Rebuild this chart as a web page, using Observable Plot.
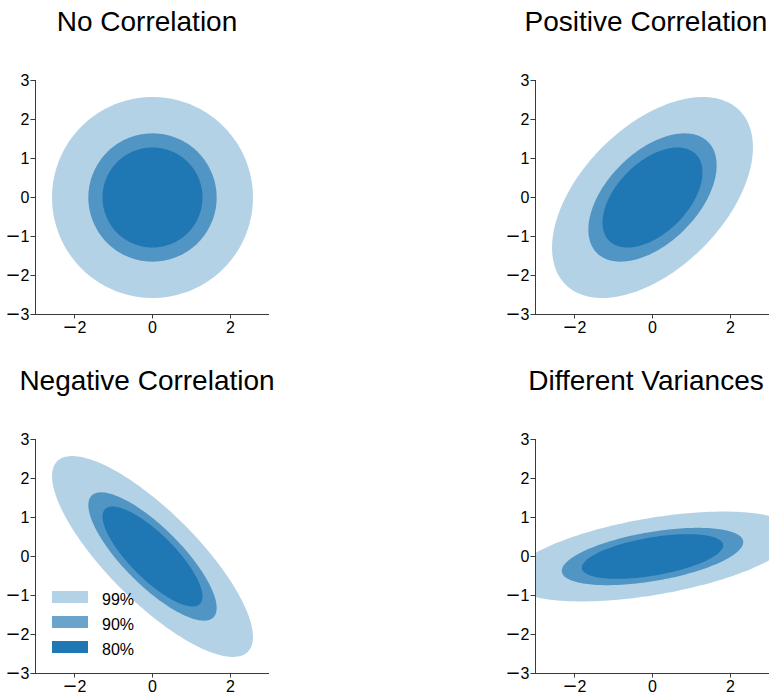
<!DOCTYPE html>
<html><head><meta charset="utf-8">
<script src="https://cdn.jsdelivr.net/npm/d3@7"></script>
<script src="https://cdn.jsdelivr.net/npm/@observablehq/plot@0.6"></script>
<style>
body{margin:0;background:#fff;font-family:"Liberation Sans",Arial,Helvetica,sans-serif;}
#wrap{position:relative;width:771px;height:697px;overflow:hidden;background:#fff;}
.title{position:absolute;font-size:28px;line-height:28px;color:#000;transform:translateX(-50%);white-space:nowrap;}
.panel{position:absolute;}
.panel text{font-size:16px;font-family:"Liberation Sans",Arial,Helvetica,sans-serif;}
.panel tspan.minus{font-family:"DejaVu Sans",sans-serif;font-size:18px;}
.sw{position:absolute;width:36px;height:12px;}
.lab{position:absolute;font-size:16px;line-height:16px;color:#000;}
</style></head><body><div id="wrap"></div>
<script>
// ---- data ----
const titles = ["No Correlation", "Positive Correlation", "Negative Correlation", "Different Variances"];
const sdX = [1, 1, 1, 1.414];
const sdY = [1, 1, 1, 0.447];
const rho = [0, 0.5, -0.8, 0.5];
const levels = ["99%", "90%", "80%"];
const zScores = [2.576, 1.645, 1.282];
const opacities = [1/3, 2/3, 1];
const yTicks = [-3, -2, -1, 0, 1, 2, 3];
const xTicks = [-2, 0, 2];
const baseColor = "#1f77b4";

// ---- layout ----
const panelLeft = [0, 500, 0, 500];
const panelTop = [70, 70, 429, 429];
const titleX = [147, 646, 147, 646];
const titleTop = [8, 8, 367, 367];

const wrap = document.getElementById("wrap");
const fmt = d3.format("d");

function ellipse(i, j) {
  const sx = sdX[i], sy = sdY[i], r = rho[i], z = zScores[j];
  const pts = [];
  for (let a = 0; a < 360; a += 2) {
    const t = a * Math.PI / 180;
    const u = Math.cos(t), v = Math.sin(t);
    pts.push({x: z * sx * u, y: z * (r * sy * u + sy * Math.sqrt(1 - r * r) * v)});
  }
  return pts;
}

titles.forEach((title, i) => {
  const marks = levels.map((lv, j) => Plot.line(ellipse(i, j), {
    x: "x", y: "y", curve: "linear-closed", fill: baseColor, fillOpacity: opacities[j],
    stroke: "none", clip: true
  }));
  const plot = Plot.plot({
    width: 271, height: 274,
    marginLeft: 35, marginRight: 2, marginTop: 10, marginBottom: 30,
    style: {fontFamily: '"Liberation Sans", Arial, sans-serif', fontSize: "16px", color: "#000", background: "transparent", overflow: "visible"},
    x: {domain: [-3, 3]},
    y: {domain: [-3, 3]},
    marks: [
      ...marks,
      Plot.ruleX([-3], {stroke: "#3a3a3a", strokeWidth: 1}),
      Plot.ruleY([-3], {stroke: "#3a3a3a", strokeWidth: 1}),
      Plot.axisY({ticks: yTicks, tickFormat: fmt, tickSize: 4.5, tickPadding: 1.5, label: null, stroke: "#3a3a3a", fontSize: 16, fill: "#000"}),
      Plot.axisX({ticks: xTicks, tickFormat: fmt, tickSize: 4.5, tickPadding: 2.5, label: null, stroke: "#3a3a3a", fontSize: 16, fill: "#000"})
    ]
  });
  // wider matplotlib-style minus sign on the tick labels
  plot.querySelectorAll("text").forEach(tx => {
    const s = tx.textContent;
    if (s.startsWith("\u2212") || s.startsWith("-")) {
      tx.textContent = "";
      const m = document.createElementNS("http://www.w3.org/2000/svg", "tspan");
      m.setAttribute("class", "minus");
      m.textContent = "\u2212";
      const rest = document.createElementNS("http://www.w3.org/2000/svg", "tspan");
      rest.textContent = s.slice(1);
      tx.appendChild(m);
      tx.appendChild(rest);
    }
  });
  plot.classList.add("panel");
  plot.style.left = panelLeft[i] + "px";
  plot.style.top = panelTop[i] + "px";
  wrap.appendChild(plot);

  const t = document.createElement("div");
  t.className = "title";
  t.textContent = title;
  t.style.left = titleX[i] + "px";
  t.style.top = titleTop[i] + "px";
  wrap.appendChild(t);
});

// legend in the Negative Correlation panel
const legendTop = [591, 616, 641];
levels.forEach((lv, j) => {
  const sw = document.createElement("div");
  sw.className = "sw";
  sw.style.left = "52px";
  sw.style.top = legendTop[j] + "px";
  sw.style.background = baseColor;
  sw.style.opacity = opacities[j];
  wrap.appendChild(sw);
  const lab = document.createElement("div");
  lab.className = "lab";
  lab.textContent = lv;
  lab.style.left = "102px";
  lab.style.top = (legendTop[j] + 1) + "px";
  wrap.appendChild(lab);
});
</script>
</body></html>
